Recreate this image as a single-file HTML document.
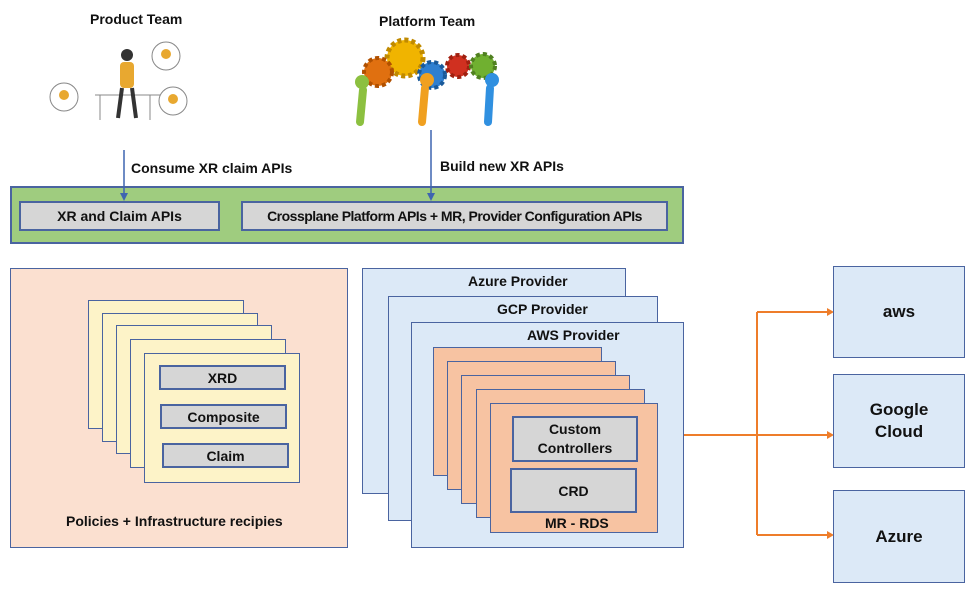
<!DOCTYPE html>
<html><head><meta charset="utf-8"><style>
body{margin:0;width:979px;height:598px;background:#fff;position:relative;overflow:hidden;font-family:"Liberation Sans",sans-serif;font-weight:bold;color:#111}
.a{position:absolute;box-sizing:border-box}
.g{background:#d6d6d6;border:2px solid #4a64a0;display:flex;align-items:center;justify-content:center;font-size:14px;text-align:center;line-height:22px}
.y{background:#fdf3c8;border:1.5px solid #4a64a0}
.o{background:#f7c3a2;border:1.5px solid #4a64a0}
.b{background:#dce9f7;border:1.5px solid #4a64a0}
.t{position:absolute;font-size:14px;white-space:nowrap}
</style></head><body>
<div class="t" style="left:90px;top:11px;font-size:14px">Product Team</div>
<div class="t" style="left:379px;top:13px;font-size:14px">Platform Team</div>
<svg class="a" style="left:0;top:0" width="979" height="598">
<g fill="none" stroke="#888" stroke-width="1">
<circle cx="64" cy="97" r="14"/><circle cx="166" cy="56" r="14"/><circle cx="173" cy="101" r="14"/>
<path d="M95 95 L160 95 M100 95 L100 120 M150 95 L150 120"/>
</g>
<circle cx="127" cy="55" r="6" fill="#333"/>
<rect x="120" y="62" width="14" height="26" rx="4" fill="#e8a830"/>
<path d="M122 88 L118 118 M132 88 L136 118" stroke="#333" stroke-width="4"/>
<circle cx="64" cy="95" r="5" fill="#e8a830"/><circle cx="166" cy="54" r="5" fill="#e8a830"/><circle cx="173" cy="99" r="5" fill="#e8a830"/>
<circle cx="405" cy="58" r="18" fill="#f0b400" stroke="#c08a00" stroke-width="5" stroke-dasharray="4 3"/>
<circle cx="378" cy="72" r="14" fill="#e07010" stroke="#b05000" stroke-width="4" stroke-dasharray="4 3"/>
<circle cx="432" cy="75" r="13" fill="#2f7fd0" stroke="#1a5a9a" stroke-width="4" stroke-dasharray="4 3"/>
<circle cx="458" cy="66" r="11" fill="#d03020" stroke="#a02010" stroke-width="4" stroke-dasharray="4 3"/>
<circle cx="483" cy="66" r="12" fill="#70b030" stroke="#508020" stroke-width="4" stroke-dasharray="4 3"/>
<g stroke-width="8" stroke-linecap="round">
<path d="M363 90 L360 122" stroke="#8cc040"/><path d="M425 88 L422 122" stroke="#f0a020"/><path d="M490 88 L488 122" stroke="#3090e0"/>
</g>
<circle cx="362" cy="82" r="7" fill="#8cc040"/><circle cx="427" cy="80" r="7" fill="#f0a020"/><circle cx="492" cy="80" r="7" fill="#3090e0"/>
</svg>
<div class="t" style="left:131px;top:160px">Consume XR claim APIs</div>
<div class="t" style="left:440px;top:158px">Build new XR APIs</div>
<div class="a" style="left:10px;top:186px;width:674px;height:58px;background:#9fcc7f;border:2px solid #4a64a0"></div>
<div class="a g" style="left:19px;top:201px;width:201px;height:30px">XR and Claim APIs</div>
<div class="a g" style="left:241px;top:201px;width:427px;height:30px;letter-spacing:-0.5px">Crossplane Platform APIs + MR, Provider Configuration APIs</div>
<svg class="a" style="left:0;top:0" width="979" height="240">
<path d="M124 150 L124 197" stroke="#3e64b0" stroke-width="1.5"/><path d="M120 193 L124 201 L128 193Z" fill="#3e64b0"/>
<path d="M431 130 L431 197" stroke="#3e64b0" stroke-width="1.5"/><path d="M427 193 L431 201 L435 193Z" fill="#3e64b0"/>
</svg>

<div class="a" style="left:10px;top:268px;width:338px;height:280px;background:#fbe0d0;border:1.5px solid #4a64a0"></div>
<div class="a y" style="left:88px;top:300px;width:156px;height:129px"></div>
<div class="a y" style="left:102px;top:313px;width:156px;height:129px"></div>
<div class="a y" style="left:116px;top:325px;width:156px;height:129px"></div>
<div class="a y" style="left:130px;top:339px;width:156px;height:129px"></div>
<div class="a y" style="left:144px;top:353px;width:156px;height:130px"></div>
<div class="a g" style="left:159px;top:365px;width:127px;height:25px">XRD</div>
<div class="a g" style="left:160px;top:404px;width:127px;height:25px">Composite</div>
<div class="a g" style="left:162px;top:443px;width:127px;height:25px">Claim</div>
<div class="t" style="left:66px;top:513px">Policies + Infrastructure recipies</div>

<div class="a b" style="left:362px;top:268px;width:264px;height:226px"></div>
<div class="t" style="left:468px;top:273px">Azure Provider</div>
<div class="a b" style="left:388px;top:296px;width:270px;height:225px"></div>
<div class="t" style="left:497px;top:301px">GCP Provider</div>
<div class="a b" style="left:411px;top:322px;width:273px;height:226px"></div>
<div class="t" style="left:527px;top:327px">AWS Provider</div>
<div class="a o" style="left:433px;top:347px;width:169px;height:129px"></div>
<div class="a o" style="left:447px;top:361px;width:169px;height:129px"></div>
<div class="a o" style="left:461px;top:375px;width:169px;height:129px"></div>
<div class="a o" style="left:476px;top:389px;width:169px;height:129px"></div>
<div class="a o" style="left:490px;top:403px;width:168px;height:130px"></div>
<div class="a g" style="left:512px;top:416px;width:126px;height:46px;line-height:19px">Custom<br>Controllers</div>
<div class="a g" style="left:510px;top:468px;width:127px;height:45px">CRD</div>
<div class="t" style="left:545px;top:515px">MR - RDS</div>

<svg class="a" style="left:0;top:0" width="979" height="598">
<g stroke="#ee7d2a" stroke-width="2" fill="none">
<path d="M684 435 L757 435 M757 312 L757 535 M757 312 L828 312 M757 435 L828 435 M757 535 L828 535"/>
</g>
<g fill="#ee7d2a"><path d="M827 308 L834 312 L827 316Z"/><path d="M827 431 L834 435 L827 439Z"/><path d="M827 531 L834 535 L827 539Z"/></g>
</svg>
<div class="a b" style="left:833px;top:266px;width:132px;height:92px;display:flex;align-items:center;justify-content:center;font-size:17px">aws</div>
<div class="a b" style="left:833px;top:374px;width:132px;height:94px;display:flex;align-items:center;justify-content:center;font-size:17px;text-align:center;line-height:22px">Google<br>Cloud</div>
<div class="a b" style="left:833px;top:490px;width:132px;height:93px;display:flex;align-items:center;justify-content:center;font-size:17px">Azure</div>
</body></html>
